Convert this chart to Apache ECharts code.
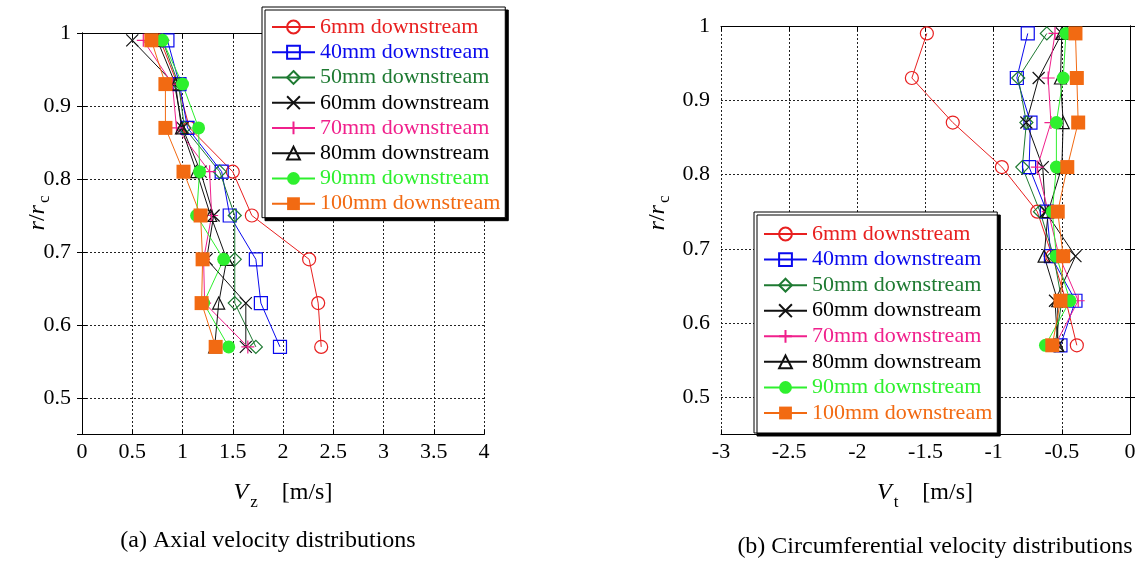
<!DOCTYPE html>
<html><head><meta charset="utf-8">
<script src="https://cdn.jsdelivr.net/npm/echarts@6/dist/echarts.min.js"></script>
<style>html,body{margin:0;padding:0;background:#fff}#c{width:1140px;height:563px}</style>
</head><body><div id="c"></div>
<script>
// radial positions r/rc
const rLevels = [0.99, 0.93, 0.87, 0.81, 0.75, 0.69, 0.63, 0.57];
const seriesNames = ['6mm downstream','40mm downstream','50mm downstream','60mm downstream','70mm downstream','80mm downstream','90mm downstream','100mm downstream'];

// (a) axial velocity Vz [m/s]
const vz6   = [0.78, 0.95, 1.07, 1.50, 1.69, 2.26, 2.35, 2.38];
const vz40  = [0.85, 0.97, 1.05, 1.39, 1.47, 1.73, 1.78, 1.97];
const vz50  = [0.80, 0.96, 1.02, 1.37, 1.52, 1.52, 1.52, 1.73];
const vz60  = [0.50, 0.92, 1.00, 1.18, 1.31, 1.24, 1.63, 1.63];
const vz70  = [0.61, 0.90, 0.94, 1.27, 1.29, 1.21, 1.22, 1.65];
const vz80  = [0.75, 0.93, 0.99, 1.14, 1.28, 1.44, 1.36, 1.32];
const vz90  = [0.80, 1.00, 1.16, 1.17, 1.14, 1.41, 1.21, 1.46];
const vz100 = [0.69, 0.83, 0.83, 1.01, 1.18, 1.20, 1.19, 1.33];

// (b) circumferential velocity Vt [m/s]
const vt6   = [-1.49, -1.60, -1.30, -0.94, -0.68, -0.57, -0.47, -0.39];
const vt40  = [-0.75, -0.83, -0.73, -0.74, -0.61, -0.58, -0.40, -0.51];
const vt50  = [-0.61, -0.82, -0.76, -0.79, -0.66, -0.56, -0.50, -0.55];
const vt60  = [-0.50, -0.67, -0.76, -0.64, -0.62, -0.40, -0.55, -0.53];
const vt70  = [-0.55, -0.60, -0.58, -0.68, -0.60, -0.52, -0.38, -0.55];
const vt80  = [-0.50, -0.51, -0.49, -0.50, -0.60, -0.63, -0.53, -0.53];
const vt90  = [-0.47, -0.49, -0.54, -0.54, -0.57, -0.54, -0.44, -0.62];
const vt100 = [-0.40, -0.39, -0.38, -0.46, -0.53, -0.49, -0.51, -0.57];

const vzAll = [vz6, vz40, vz50, vz60, vz70, vz80, vz90, vz100];
const vtAll = [vt6, vt40, vt50, vt60, vt70, vt80, vt90, vt100];

const colors = ['#e82020','#0a0aee','#1e7a32','#111111','#f0208c','#111111','#2ef02e','#f26a12'];
const symbols = ['circle','rect','diamond','path://M0,0L10,10M10,0L0,10','path://M5,0L5,10M0,5L10,5','triangle','circle','rect'];
const filled = [false,false,false,false,false,false,true,true];
const sizes = [13,13,13,12,13,12,13,14];

const FONT = 'Liberation Serif';

function makeSeries(all, gi) {
  return all.map((vals, i) => ({
    type: 'line', name: seriesNames[i], xAxisIndex: gi*2, yAxisIndex: gi*2,
    data: vals.map((v, k) => [v, rLevels[k]]),
    symbol: symbols[i], symbolSize: sizes[i], showSymbol: true,
    lineStyle: { color: colors[i], width: 1 },
    itemStyle: { color: filled[i] ? colors[i] : 'rgba(0,0,0,0)', borderColor: colors[i], borderWidth: filled[i] ? 0 : 1.2 },
    emphasis: { disabled: true }, animation: false
  }));
}

function xAxes(gi, min, max) {
  return [
    { type: 'value', gridIndex: gi, position: 'bottom', min: min, max: max, interval: 0.5,
      axisLine: { lineStyle: { color: '#000', width: 1 } },
      axisTick: { inside: true, length: 5, lineStyle: { color: '#000' } },
      axisLabel: { color: '#000', fontFamily: FONT, fontSize: 22, margin: 7 },
      splitLine: { show: true, lineStyle: { color: '#222', type: [2, 2], width: 1 } } },
    { type: 'value', gridIndex: gi, position: 'top', min: min, max: max, interval: 0.5,
      axisLine: { lineStyle: { color: '#000', width: 1 } },
      axisTick: { inside: true, length: 5, lineStyle: { color: '#000' } },
      axisLabel: { show: false }, splitLine: { show: false } }
  ];
}
function yAxes(gi) {
  return [
    { type: 'value', gridIndex: gi, position: 'left', min: 0.45, max: 1, splitNumber: 5,
      axisLine: { lineStyle: { color: '#000', width: 1 } },
      axisTick: { inside: true, length: 5, lineStyle: { color: '#000' } },
      axisLabel: { color: '#000', fontFamily: FONT, fontSize: 22, margin: 11, showMinLabel: false },
      splitLine: { show: true, lineStyle: { color: '#222', type: [2, 2], width: 1 } } },
    { type: 'value', gridIndex: gi, position: 'right', min: 0.45, max: 1, splitNumber: 5,
      axisLine: { lineStyle: { color: '#000', width: 1 } },
      axisTick: { inside: true, length: 5, lineStyle: { color: '#000' } },
      axisLabel: { show: false }, splitLine: { show: false } }
  ];
}

function legend(left, top, padding, gap) {
  return {
    orient: 'vertical', left: left, top: top, padding: padding, itemGap: gap,
    itemWidth: 43, itemHeight: 16,
    backgroundColor: '#fff', borderColor: '#000', borderWidth: 1,
    shadowColor: '#000', shadowBlur: 0, shadowOffsetX: 3, shadowOffsetY: 3,
    selectedMode: false,
    textStyle: { fontFamily: FONT, fontSize: 22, lineHeight: 22, padding: [0,0,0,0] },
    data: seriesNames.map((n, i) => ({ name: n, textStyle: { color: colors[i] === '#111111' ? '#000' : colors[i] } }))
  };
}

const richBase = {
  i: { fontFamily: FONT, fontSize: 24, fontStyle: 'italic', fill: '#000' },
  n: { fontFamily: FONT, fontSize: 24, fill: '#000' },
  s: { fontFamily: FONT, fontSize: 17, fill: '#000', padding: [14, 0, 0, 2] },
  sx: { fontFamily: FONT, fontSize: 17, fill: '#000', padding: [20, 0, 0, 2] }
};

const option = {
  backgroundColor: '#fff',
  animation: false,
  grid: [
    { left: 82, top: 33, width: 402, height: 401.5, containLabel: false },
    { left: 721, top: 26, width: 409, height: 408.4, containLabel: false }
  ],
  xAxis: [].concat(xAxes(0, 0, 4), xAxes(1, -3, 0)),
  yAxis: [].concat(yAxes(0), yAxes(1)),
  legend: [ legend(262, 7, [9, 5, 3, 9], 3.24), legend(754, 212, [11, 5, 9, 9], 3.57) ],
  series: [].concat(makeSeries(vzAll, 0), makeSeries(vtAll, 1)),
  graphic: [
    { type: 'text', x: 38, y: 213, rotation: Math.PI / 2,
      style: { text: '{i|r}{n|/}{i|r}{s|c}', rich: richBase, align: 'center', verticalAlign: 'middle' } },
    { type: 'text', x: 658, y: 213, rotation: Math.PI / 2,
      style: { text: '{i|r}{n|/}{i|r}{s|c}', rich: richBase, align: 'center', verticalAlign: 'middle' } },
    { type: 'text', x: 283, y: 493,
      style: { text: '{i|V}{sx|z}{n|    [m/s]}', rich: richBase, align: 'center', verticalAlign: 'middle' } },
    { type: 'text', x: 925, y: 493,
      style: { text: '{i|V}{sx|t}{n|    [m/s]}', rich: richBase, align: 'center', verticalAlign: 'middle' } },
    { type: 'text', x: 268, y: 541,
      style: { text: '(a) Axial velocity distributions', fontFamily: FONT, fontSize: 24, fill: '#000', align: 'center', verticalAlign: 'middle' } },
    { type: 'text', x: 935, y: 547,
      style: { text: '(b) Circumferential velocity distributions', fontFamily: FONT, fontSize: 24, fill: '#000', align: 'center', verticalAlign: 'middle' } }
  ]
};

const chart = echarts.init(document.getElementById('c'), null, { renderer: 'canvas' });
chart.setOption(option);
</script>
</body></html>
